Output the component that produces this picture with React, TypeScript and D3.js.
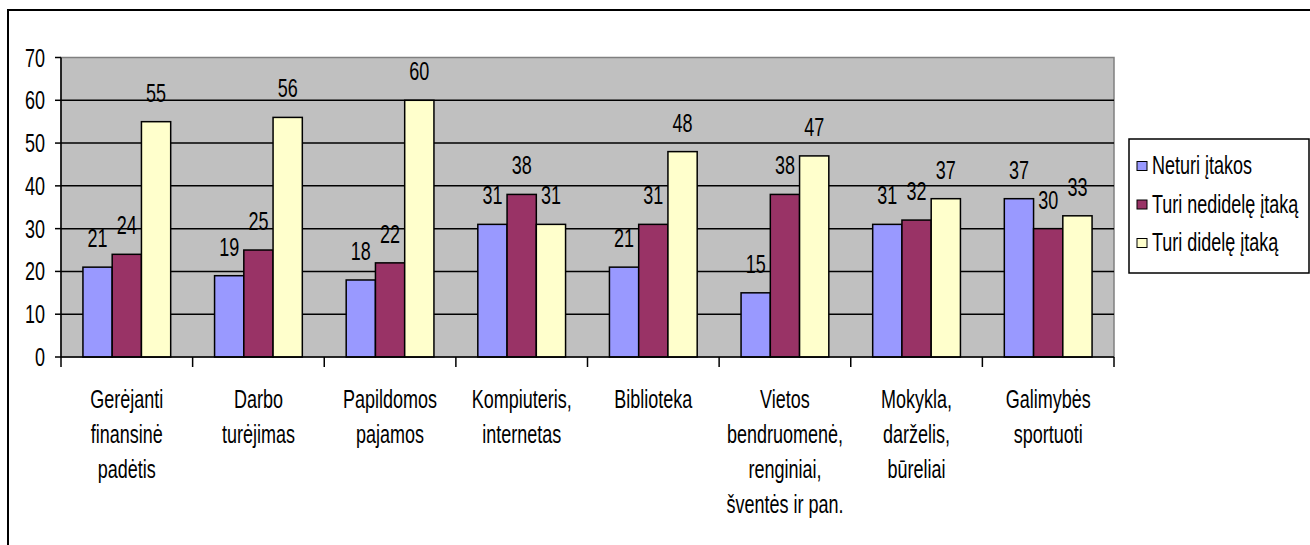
import React from "react";
import * as d3 from "d3";

const categories: string[][] = [
  ["Gerėjanti", "finansinė", "padėtis"],
  ["Darbo", "turėjimas"],
  ["Papildomos", "pajamos"],
  ["Kompiuteris,", "internetas"],
  ["Biblioteka"],
  ["Vietos", "bendruomenė,", "renginiai,", "šventės ir pan."],
  ["Mokykla,", "darželis,", "būreliai"],
  ["Galimybės", "sportuoti"],
];
const seriesNames = ["Neturi įtakos", "Turi nedidelę įtaką", "Turi didelę įtaką"];
const neturi = [21, 19, 18, 31, 21, 15, 31, 37];
const nedidele = [24, 25, 22, 38, 31, 38, 32, 30];
const didele = [55, 56, 60, 31, 48, 47, 37, 33];
const yTicks = [0, 10, 20, 30, 40, 50, 60, 70];
const colors = ["#9999FF", "#993366", "#FFFFCC"];

const W = 1310;
const H = 545;
const FS = 25;
const SX = 0.72;
const FONT = "'Liberation Sans', Arial, sans-serif";

function T({ x, y, anchor = "middle", children }: any) {
  return (
    <text
      transform={`translate(${x},${y}) scale(${SX},1)`}
      textAnchor={anchor}
      fontSize={FS}
      fontFamily={FONT}
      fill="#000"
    >
      {children}
    </text>
  );
}

export default function App() {
  const series = [neturi, nedidele, didele];
  const left = 61;
  const right = 1114;
  const top = 57.5;
  const bottom = 357;
  const x0 = d3
    .scaleBand<number>()
    .domain(d3.range(categories.length))
    .range([left, right])
    .paddingInner(0)
    .paddingOuter(0);
  const cw = x0.bandwidth();
  const bw = cw / 4.5;
  const y = d3.scaleLinear().domain([0, 70]).range([bottom, top]);

  return (
    <div style={{ position: "absolute", left: 0, top: 0 }}>
      <svg width={W} height={H} style={{ display: "block" }}>
        <rect x={0} y={0} width={W} height={H} fill="#fff" />
        {/* outer border */}
        <rect x={8} y={10} width={W + 10} height={H + 10} fill="none" stroke="#000" strokeWidth={2} />
        {/* plot background */}
        <rect x={left} y={top} width={right - left} height={bottom - top} fill="#C0C0C0" stroke="#808080" strokeWidth={1.5} />
        {/* gridlines */}
        {yTicks.slice(1, -1).map((t) => (
          <line key={t} x1={left} x2={right} y1={y(t)} y2={y(t)} stroke="#000" strokeWidth={1.5} />
        ))}
        {/* bars */}
        {categories.map((_, i) =>
          series.map((s, j) => {
            const bx = (x0(i) as number) + cw / 2 - 1.5 * bw + j * bw;
            return (
              <rect
                key={`${i}-${j}`}
                x={bx}
                y={y(s[i])}
                width={bw}
                height={bottom - y(s[i])}
                fill={colors[j]}
                stroke="#000"
                strokeWidth={1.5}
              />
            );
          })
        )}
        {/* value labels */}
        {categories.map((_, i) =>
          series.map((s, j) => {
            const cx = (x0(i) as number) + cw / 2 - bw + j * bw;
            return (
              <T key={`l-${i}-${j}`} x={cx} y={y(s[i]) - 20}>
                {s[i]}
              </T>
            );
          })
        )}
        {/* y axis */}
        <line x1={left} x2={left} y1={top} y2={bottom} stroke="#000" strokeWidth={1.5} />
        {yTicks.map((t) => (
          <g key={`yt-${t}`}>
            <line x1={left - 6} x2={left} y1={y(t)} y2={y(t)} stroke="#000" strokeWidth={1.5} />
            <T x={45} y={y(t) + 9} anchor="end">
              {t}
            </T>
          </g>
        ))}
        {/* x axis */}
        <line x1={left} x2={right} y1={bottom} y2={bottom} stroke="#000" strokeWidth={1.5} />
        {d3.range(categories.length + 1).map((i) => {
          const tx = left + i * cw;
          return <line key={`xt-${i}`} x1={tx} x2={tx} y1={bottom} y2={bottom + 10} stroke="#000" strokeWidth={1.5} />;
        })}
        {categories.map((lines, i) => (
          <g key={`cl-${i}`}>
            {lines.map((ln, k) => (
              <T key={k} x={(x0(i) as number) + cw / 2} y={408 + k * 35}>
                {ln}
              </T>
            ))}
          </g>
        ))}
        {/* legend */}
        <rect x={1129} y={139} width={180} height={134} fill="#fff" stroke="#000" strokeWidth={1.5} />
        {seriesNames.map((n, j) => {
          const cy = 166 + j * 38.5;
          return (
            <g key={`lg-${j}`}>
              <rect x={1137} y={cy - 4.5} width={10} height={9} fill={colors[j]} stroke="#000" strokeWidth={1} />
              <T x={1152} y={cy + 8} anchor="start">
                {n}
              </T>
            </g>
          );
        })}
      </svg>
    </div>
  );
}
